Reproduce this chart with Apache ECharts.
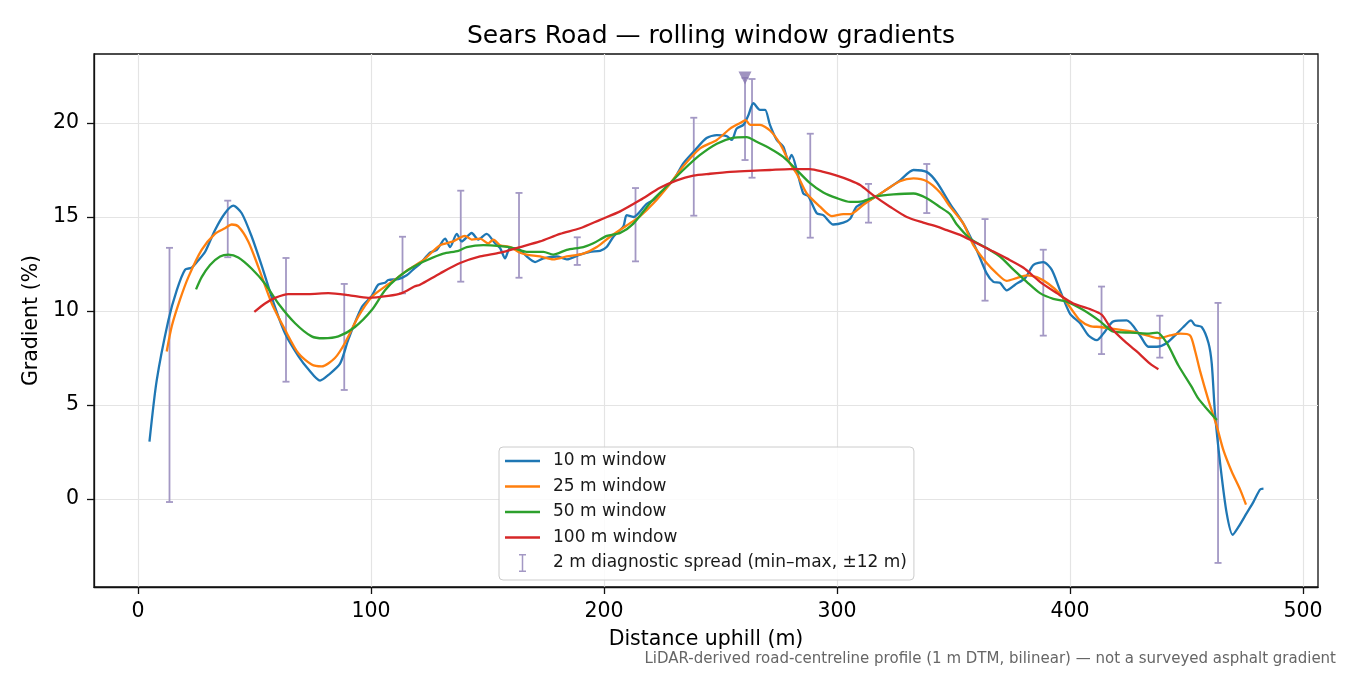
<!DOCTYPE html>
<html>
<head>
<meta charset="utf-8">
<title>Sears Road — rolling window gradients</title>
<script src="https://cdn.jsdelivr.net/npm/echarts@6/dist/echarts.min.js"></script>
<style>
    html, body { margin: 0; padding: 0; background: #ffffff; }
    #chart { width: 1350px; height: 675px; }
</style>
</head>
<body>
<div id="chart"></div>
<script>
// distance uphill (m) and gradient (%) for each rolling window
const w10X = [4.9, 8.0, 13, 16.6, 20.2, 23, 25.9, 28.8, 33, 37.3, 40.9, 44.5, 48.8, 53.1, 58.8, 63.1, 68.8, 73.1, 78.1, 81.7,
    86.7, 90.3, 96, 100.3, 103.1, 106, 107.4, 111.7, 115.3, 118.9, 121, 125.3, 128.2, 131.8, 133.9, 136.8, 138.9, 143.2, 146, 149.6,
    153.2, 155.4, 157.5, 159.7, 164, 166.8, 170.4, 174, 179.7, 184, 189.7, 194, 198.3, 201.1, 204, 208.3, 209.7, 212.6, 218.3, 222.6,
    226.9, 230, 234, 239, 244, 248.4, 252.6, 254.8, 256.9, 259.8, 261.9, 264.1, 266.9, 269.1, 271.2, 274.1, 276.9, 279.1, 280.5, 282.7,
    285.5, 287.7, 291.3, 294.1, 298.4, 302.7, 305.6, 308.4, 314.2, 319.9, 327, 332.8, 338.4, 342.8, 348.5, 354.2, 359.9, 364.2, 367.1, 369.9,
    372.8, 376.4, 380.7, 384.3, 388.6, 392.1, 395.7, 400, 404.3, 407.9, 411.5, 414.3, 418.6, 424.3, 430, 433.6, 437.2, 441.5, 445.8, 448.6,
    451.9, 453.6, 456.5, 459.4, 460.8, 462.2, 464.4, 467.2, 469.8, 472.2, 475.8, 478.7, 481.5, 483.0];
const w10Y = [3.05, 6.3, 9.5, 11.1, 12.2, 12.3, 12.7, 13.15, 14.3, 15.2, 15.6, 15.2, 13.95, 12.4, 10.2, 8.8, 7.6, 6.9, 6.3, 6.6,
    7.2, 8.5, 10.2, 10.8, 11.4, 11.5, 11.65, 11.7, 11.9, 12.3, 12.5, 13.1, 13.25, 13.85, 13.4, 14.1, 13.7, 14.15, 13.8, 14.1,
    13.6, 13.35, 12.8, 13.35, 13.25, 12.9, 12.6, 12.8, 12.9, 12.75, 13.0, 13.15, 13.2, 13.4, 13.95, 14.5, 15.1, 15.0, 15.7, 16.0,
    16.6, 17.0, 17.85, 18.55, 19.2, 19.35, 19.3, 19.1, 19.7, 19.9, 20.4, 21.05, 20.7, 20.7, 19.9, 19.1, 18.75, 18.0, 18.3, 17.5,
    16.25, 16.1, 15.2, 15.1, 14.6, 14.7, 14.9, 15.55, 15.9, 16.35, 16.95, 17.5, 17.4, 16.85, 15.7, 14.65, 13.25, 12.0, 11.55, 11.5,
    11.1, 11.4, 11.75, 12.45, 12.6, 12.2, 11.1, 9.85, 9.35, 8.7, 8.45, 8.8, 9.45, 9.5, 8.7, 8.1, 8.1, 8.3, 8.8, 9.15,
    9.5, 9.25, 9.15, 8.3, 7.2, 4.55, 1.9, -0.75, -1.9, -1.5, -0.75, -0.15, 0.5, 0.55];

const w25X = [12.3, 14.5, 18, 21.6, 27.3, 33, 37.3, 40.2, 43, 47.3, 51.6, 57.4, 63.1, 68.8, 74.5, 78.8, 84.5, 88.8, 94.5, 100.3,
    106, 111.7, 115.3, 122.4, 129.6, 135.3, 140.3, 143.2, 146.8, 150.3, 152.5, 155.4, 159.7, 164, 166.8, 172.5, 178.2, 184, 191.1, 196.9,
    202.6, 209.7, 215.5, 221, 228.5, 234, 241.2, 248.4, 254.1, 258.4, 260.8, 262.7, 266.9, 271.2, 275.5, 279.8, 282.7, 287, 292.7, 297.7,
    302.7, 305.6, 311.3, 319.9, 327, 332.8, 338.5, 344.2, 348.5, 354.2, 358.5, 364.2, 368.5, 372.8, 377.1, 381.4, 385.7, 390.7, 395.7, 400,
    404.3, 408.6, 412.9, 418.6, 427.2, 433, 437.9, 442.9, 447.2, 451.5, 453.6, 455.8, 459.4, 463, 465.8, 469.4, 473, 475.5];
const w25Y = [7.85, 9.2, 10.6, 11.8, 13.25, 14.1, 14.4, 14.6, 14.5, 13.7, 12.35, 10.4, 9.0, 7.75, 7.15, 7.05, 7.5, 8.3, 9.7, 10.75,
    11.3, 11.8, 12.15, 12.7, 13.5, 13.7, 14.0, 13.8, 13.85, 13.6, 13.8, 13.5, 13.4, 13.1, 13.0, 12.9, 12.75, 12.9, 13.05, 13.4,
    13.95, 14.55, 15.05, 15.7, 16.8, 17.7, 18.65, 19.1, 19.7, 20.0, 20.15, 19.9, 19.9, 19.6, 18.9, 17.85, 17.3, 16.25, 15.55, 15.05,
    15.15, 15.15, 15.65, 16.35, 16.9, 17.05, 16.9, 16.3, 15.55, 14.65, 13.5, 12.55, 12.0, 11.6, 11.75, 11.9, 11.8, 11.45, 10.9, 10.2,
    9.5, 9.2, 9.15, 9.05, 8.9, 8.7, 8.55, 8.7, 8.8, 8.7, 7.9, 6.8, 5.25, 3.85, 2.6, 1.45, 0.5, -0.3];

const w50X = [24.9, 27.3, 30.9, 35.2, 38.8, 43, 48.8, 54.5, 60.2, 67.4, 74.5, 79.5, 86, 93.1, 100.3, 106, 111.7, 118.2, 123.9, 131,
    137.5, 141.1, 148.2, 155.4, 161.1, 166.8, 174, 178.2, 184, 191.1, 195.4, 201.2, 206.9, 212.6, 220.5, 227.5, 234, 241.2, 248.4, 254.8,
    261.2, 265.5, 271.2, 276.9, 282.7, 288.4, 294.1, 299.9, 305.6, 311.3, 317, 324.2, 332.8, 338.5, 344.5, 348.5, 351.4, 357.1, 364.2, 369.9,
    375.7, 381.4, 387.1, 392.8, 398.6, 405.7, 412.9, 418.6, 425.8, 433, 437.5, 441.5, 446.5, 452, 455, 458, 463];
const w50Y = [11.15, 11.8, 12.45, 12.9, 13.0, 12.85, 12.25, 11.45, 10.4, 9.35, 8.65, 8.55, 8.65, 9.15, 10.05, 11.1, 11.8, 12.35, 12.7, 13.05,
    13.2, 13.4, 13.5, 13.45, 13.35, 13.15, 13.15, 13.0, 13.25, 13.4, 13.6, 14.0, 14.15, 14.65, 15.85, 16.7, 17.5, 18.3, 18.9, 19.2,
    19.25, 19.0, 18.65, 18.2, 17.5, 16.8, 16.3, 16.0, 15.8, 15.85, 16.1, 16.2, 16.25, 16.0, 15.5, 15.15, 14.6, 13.85, 13.35, 12.9,
    12.2, 11.55, 10.95, 10.65, 10.5, 10.05, 9.45, 8.9, 8.85, 8.8, 8.85, 8.3, 7.1, 6.0, 5.35, 4.9, 4.2];

const w100X = [49.9, 54.5, 58.8, 64.5, 73.1, 81.7, 90.3, 98.8, 107.4, 113.2, 118.6, 121, 129.6, 138.2, 146.8, 155.4, 164, 172.5, 181.1, 189.7,
    198.3, 206.9, 215.5, 224, 231.2, 238.3, 245.5, 254.1, 262.7, 271.2, 279.8, 288.4, 294.1, 299.9, 305.6, 309.9, 315.6, 322.7, 329.9, 337,
    341.3, 347.1, 352.8, 358.5, 365.7, 372.8, 380, 387.1, 394.3, 401.4, 408.6, 413.6, 417.2, 422.9, 428.6, 434.3, 437.9];
const w100Y = [9.95, 10.4, 10.7, 10.9, 10.9, 10.95, 10.85, 10.7, 10.8, 10.95, 11.3, 11.4, 12.0, 12.55, 12.9, 13.1, 13.4, 13.7, 14.1, 14.4,
    14.85, 15.3, 15.9, 16.55, 16.95, 17.2, 17.3, 17.4, 17.45, 17.5, 17.55, 17.55, 17.4, 17.2, 16.95, 16.7, 16.15, 15.55, 15.0, 14.7,
    14.55, 14.3, 14.05, 13.7, 13.25, 12.8, 12.3, 11.55, 10.95, 10.4, 10.1, 9.8, 9.15, 8.45, 7.85, 7.2, 6.9];

// 2 m diagnostic spread: station, min, max
const spreadX = [13.5, 38.5, 63.5, 88.5, 113.5, 138.5, 163.5, 188.5, 213.5, 238.5, 260.5, 263.5, 288.5, 313.5, 338.5, 363.5, 388.5, 413.5, 438.5, 463.5];
const spreadMin = [-0.16, 12.86, 6.24, 5.80, 10.94, 11.56, 11.77, 12.45, 12.64, 15.07, 18.03, 17.09, 13.90, 14.70, 15.21, 10.55, 8.69, 7.71, 7.52, -3.40];
const spreadMax = [13.36, 15.87, 12.82, 11.44, 13.95, 16.40, 16.28, 13.92, 16.54, 20.28, 22.40, 22.34, 19.43, 16.76, 17.82, 14.89, 13.26, 11.30, 9.75, 10.43];

// steepest 2 m reading
const peakX = [260.5];
const peakY = [22.4];

const xTicks = [0, 100, 200, 300, 400, 500];
const yTicks = [0, 5, 10, 15, 20];

const FONT = 'DejaVu Sans';
const SPREAD_COLOR = '#a398c4';
const FRAME_COLOR = '#111111';

/**
 * Pairs up two arrays into [x, y] points.
 */
function toPoints(xs, ys) {
    return xs.map(function (x, i) {
        return [x, ys[i]];
    });
}

/**
 * Draws one min-max bar with caps for the custom series.
 */
function renderSpread(params, api) {
    const x = api.value(0);
    const bottom = api.coord([x, api.value(1)]);
    const top = api.coord([x, api.value(2)]);
    const cap = 3.5;
    const style = { stroke: SPREAD_COLOR, lineWidth: 1.8 };
    return {
        type: 'group',
        children: [
            { type: 'line', shape: { x1: top[0], y1: top[1], x2: bottom[0], y2: bottom[1] }, style: style },
            { type: 'line', shape: { x1: top[0] - cap, y1: top[1], x2: top[0] + cap, y2: top[1] }, style: style },
            { type: 'line', shape: { x1: bottom[0] - cap, y1: bottom[1], x2: bottom[0] + cap, y2: bottom[1] }, style: style }
        ]
    };
}

function lineSeries(name, color, xs, ys) {
    return {
        name: name,
        type: 'line',
        data: toPoints(xs, ys),
        showSymbol: false,
        symbol: 'none',
        smooth: 0.25,
        z: 3,
        color: color,
        lineStyle: { width: 2.3, color: color }
    };
}

/**
 * Shared axis settings: matplotlib-like outward ticks at the given values.
 */
function makeAxis(min, max, ticks, name, nameGap, labelMargin) {
    return {
        type: 'value',
        min: min,
        max: max,
        splitNumber: 5,
        name: name,
        nameLocation: 'middle',
        nameGap: nameGap,
        nameTextStyle: { fontFamily: FONT, fontSize: 20.5, color: '#000000' },
        axisLine: { show: true, onZero: false, lineStyle: { color: FRAME_COLOR, width: 1.3 } },
        axisTick: {
            show: true,
            inside: false,
            length: 7,
            customValues: ticks,
            lineStyle: { color: FRAME_COLOR, width: 1.3 }
        },
        axisLabel: {
            margin: labelMargin,
            fontFamily: FONT,
            fontSize: 20.5,
            color: '#000000',
            customValues: ticks
        },
        splitLine: { show: true, lineStyle: { color: '#e4e4e4', width: 1.2 } }
    };
}

const chart = echarts.init(document.getElementById('chart'), null, { renderer: 'canvas' });

const spreadName = '2 m diagnostic spread (min–max, ±12 m)';
const lineIcon = 'path://M0,0L35,0L35,2.4L0,2.4Z';
const barIcon = 'path://M0,0H7V1.5H4.25V16.5H7V18H0V16.5H2.75V1.5H0Z';

const options = {
    animation: false,
    backgroundColor: '#ffffff',
    textStyle: { fontFamily: FONT },
    title: {
        text: 'Sears Road — rolling window gradients',
        left: 706,
        textAlign: 'center',
        top: 19,
        textStyle: { fontFamily: FONT, fontSize: 25, fontWeight: 'normal', color: '#000000' }
    },
    graphic: [{
        type: 'text',
        right: 14,
        top: 652,
        style: {
            text: 'LiDAR-derived road-centreline profile (1 m DTM, bilinear) — not a surveyed asphalt gradient',
            fontFamily: FONT,
            fontSize: 15,
            fill: '#666666'
        }
    }],
    legend: {
        orient: 'vertical',
        left: 499,
        top: 447,
        padding: [5, 7, 8, 6],
        itemWidth: 35,
        itemHeight: 18,
        itemGap: 7.5,
        symbolKeepAspect: true,
        backgroundColor: 'rgba(255,255,255,0.85)',
        borderColor: '#cccccc',
        borderWidth: 1,
        borderRadius: 4,
        itemStyle: { borderWidth: 0 },
        textStyle: { fontFamily: FONT, fontSize: 17, color: '#1a1a1a', padding: [0, 0, 0, 8], lineHeight: 18 },
        data: [
            { name: '10 m window', icon: lineIcon },
            { name: '25 m window', icon: lineIcon },
            { name: '50 m window', icon: lineIcon },
            { name: '100 m window', icon: lineIcon },
            { name: spreadName, icon: barIcon }
        ]
    },
    grid: {
        left: 94,
        right: 32,
        top: 54,
        bottom: 88,
        show: true,
        borderColor: FRAME_COLOR,
        borderWidth: 1.3,
        containLabel: false
    },
    xAxis: makeAxis(-18.9, 506.4, xTicks, 'Distance uphill (m)', 42, 14),
    yAxis: makeAxis(-4.68, 23.67, yTicks, 'Gradient (%)', 50, 15),
    series: [
        {
            name: spreadName,
            type: 'custom',
            renderItem: renderSpread,
            itemStyle: { color: SPREAD_COLOR },
            encode: { x: 0, y: [1, 2] },
            z: 2,
            data: spreadX.map(function (x, i) {
                return [x, spreadMin[i], spreadMax[i]];
            })
        },
        lineSeries('10 m window', '#1f77b4', w10X, w10Y),
        lineSeries('25 m window', '#ff7f0e', w25X, w25Y),
        lineSeries('50 m window', '#2ca02c', w50X, w50Y),
        lineSeries('100 m window', '#d62728', w100X, w100Y),
        {
            name: 'steepest 2 m',
            type: 'scatter',
            symbol: 'triangle',
            symbolRotate: 180,
            symbolSize: 13,
            itemStyle: { color: '#8878b0' },
            z: 5,
            data: toPoints(peakX, peakY)
        }
    ]
};

chart.setOption(options);
</script>
</body>
</html>
